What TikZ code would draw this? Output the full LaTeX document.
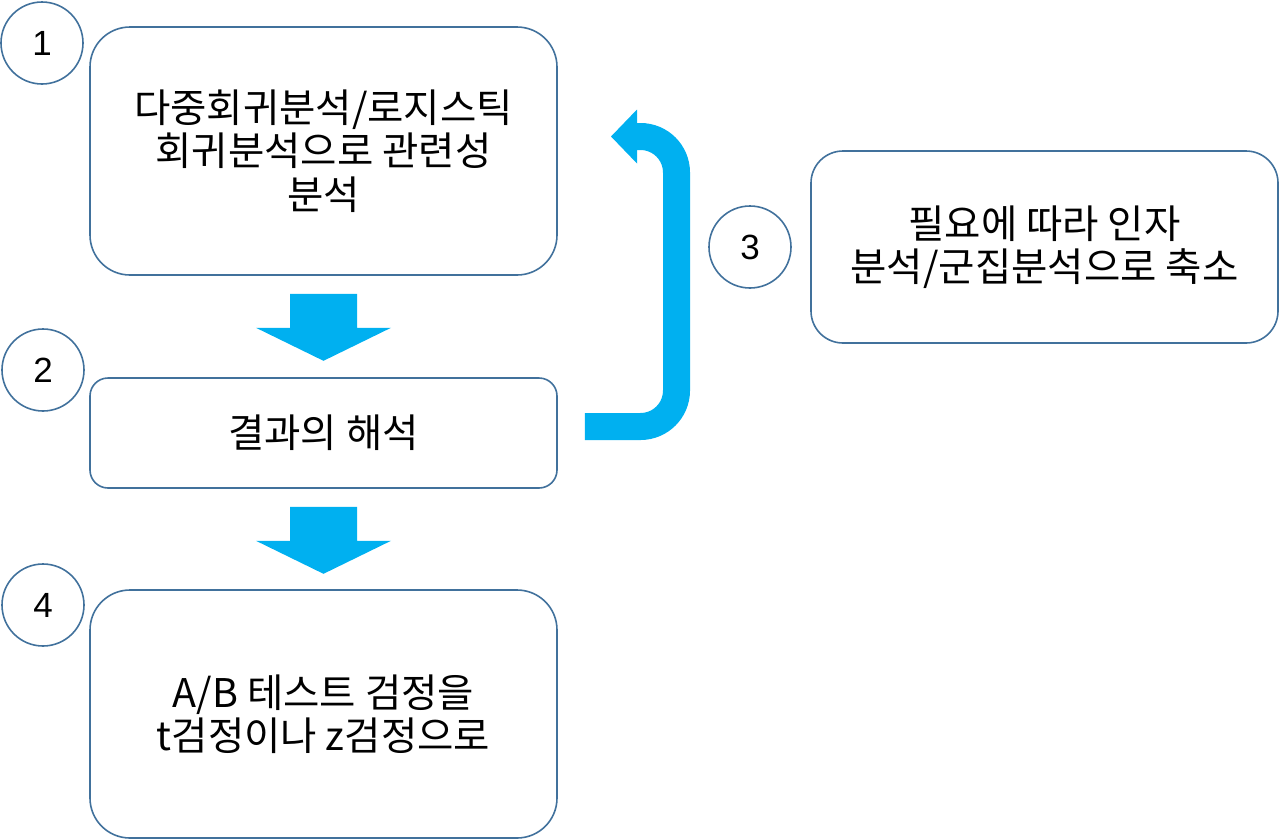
\documentclass[tikz,border=0pt]{standalone}
\usepackage{fontspec}
\setmainfont{Noto Sans CJK KR}
\newfontfamily\digitfont{Liberation Sans}
\usetikzlibrary{calc}
\definecolor{boxline}{HTML}{41719C}
\definecolor{flow}{HTML}{00B0F0}
\tikzset{
  stepbox/.style={draw=boxline, line width=1.6pt, fill=white, align=center, inner sep=0pt,
    minimum width=467pt, font=\fontsize{39.5}{43.5}\selectfont},
  numcirc/.style={draw=boxline, line width=1.6pt, circle, minimum size=82pt, inner sep=0pt,
    font=\digitfont\fontsize{35}{40}\selectfont},
  blockarrow/.style={fill=flow, draw=none},
  bentarrow/.style={draw=flow, line width=27pt, rounded corners=36pt}
}
\begin{document}
\begin{tikzpicture}[x=1pt,y=-1pt]
\useasboundingbox (0,0) rectangle (1280,839);
% boxes
\node[stepbox, minimum height=248pt, rounded corners=40pt] (b1) at (323.5,151) {다중회귀분석/로지스틱\\회귀분석으로 관련성\\분석};
\node[stepbox, minimum height=110pt, rounded corners=18pt] (b2) at (323.5,433) {결과의 해석};
\node[stepbox, minimum height=248pt, rounded corners=40pt] (b4) at (323.5,714) {A/B 테스트 검정을\\t검정이나 z검정으로};
\node[stepbox, minimum height=192pt, rounded corners=32pt] (b3) at (1044.5,247) {필요에 따라 인자\\분석/군집분석으로 축소};
% number circles
\node[numcirc] (c1) at (42,43) {1};
\node[numcirc] (c2) at (43,370) {2};
\node[numcirc] (c3) at (750,247) {3};
\node[numcirc] (c4) at (43,605) {4};
% block arrows
\coordinate (a1) at ($(b1.south)+(0,18)$);
\coordinate (a2) at ($(b2.south)+(0,18)$);
\foreach \a in {a1,a2}{
  \fill[blockarrow] ($(\a)+(-33.5,0)$) -- ($(\a)+(33.5,0)$) -- ($(\a)+(33.5,34)$) -- ($(\a)+(67.5,34)$)
    -- ($(\a)+(0,67)$) -- ($(\a)+(-67.5,34)$) -- ($(\a)+(-33.5,34)$) -- cycle;
}
% bent feedback arrow
\coordinate (us) at ($(b2.east)+(27,-6.5)$);
\coordinate (ue) at (637,136.5);
\coordinate (ut) at (611,136.5);
\draw[bentarrow] (us) -| (676.5,136.5) -- (ue);
\fill[flow] (637,109.5) -- (ut) -- (637,163.5) -- cycle;
\end{tikzpicture}
\end{document}
